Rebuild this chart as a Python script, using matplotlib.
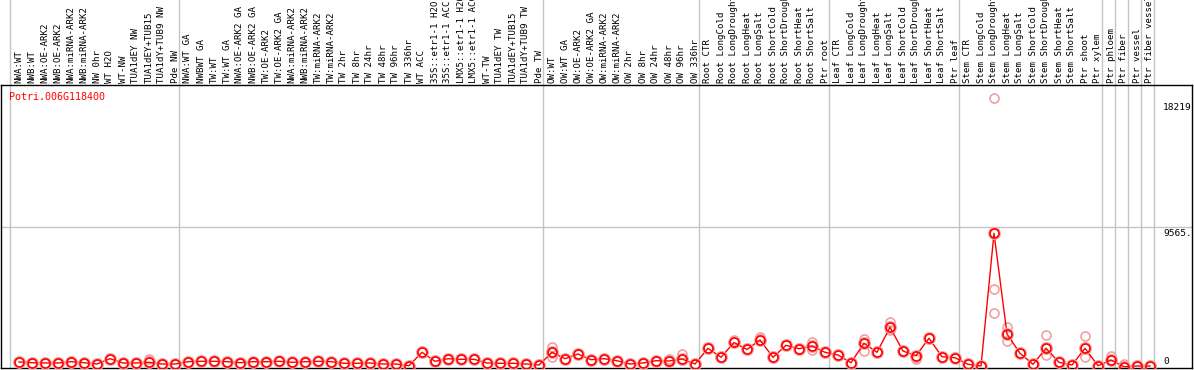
import matplotlib
matplotlib.use("Agg")
import matplotlib.pyplot as plt
import numpy as np

gene = "Potri.006G118400"

samples = [
    "NWA:WT", "NWB:WT", "NWA:OE-ARK2", "NWB:OE-ARK2", "NWA:miRNA-ARK2", "NWB:miRNA-ARK2",
    "NW 0hr", "WT H2O", "WT-NW", "TUA1dEY NW", "TUA1dEY+TUB15", "TUA1dY+TUB9 NW", "Pde NW",
    "NWA:WT GA", "NWBWT GA", "TW:WT", "TW:WT GA", "NWA:OE-ARK2 GA", "NWB:OE-ARK2 GA",
    "TW:OE-ARK2", "TW:OE-ARK2 GA", "NWA:miRNA-ARK2", "NWB:miRNA-ARK2", "TW:miRNA-ARK2",
    "TW:miRNA-ARK2", "TW 2hr", "TW 8hr", "TW 24hr", "TW 48hr", "TW 96hr", "TW 336hr",
    "WT ACC", "35S::etr1-1 H2O", "35S::etr1-1 ACC", "LMX5::etr1-1 H2O", "LMX5::etr1-1 ACC",
    "WT-TW", "TUA1dEY TW", "TUA1dEY+TUB15", "TUA1dY+TUB9 TW", "Pde TW",
    "OW:WT", "OW:WT GA", "OW:OE-ARK2", "OW:OE-ARK2 GA", "OW:miRNA-ARK2", "OW:miRNA-ARK2",
    "OW 2hr", "OW 8hr", "OW 24hr", "OW 48hr", "OW 96hr", "OW 336hr",
    "Root CTR", "Root LongCold", "Root LongDrought", "Root LongHeat", "Root LongSalt",
    "Root ShortCold", "Root ShortDrought", "Root ShortHeat", "Root ShortSalt", "Ptr root",
    "Leaf CTR", "Leaf LongCold", "Leaf LongDrought", "Leaf LongHeat", "Leaf LongSalt",
    "Leaf ShortCold", "Leaf ShortDrought", "Leaf ShortHeat", "Leaf ShortSalt", "Ptr leaf",
    "Stem CTR", "Stem LongCold", "Stem LongDrought", "Stem LongHeat", "Stem LongSalt",
    "Stem ShortCold", "Stem ShortDrought", "Stem ShortHeat", "Stem ShortSalt", "Ptr shoot",
    "Ptr xylem", "Ptr phloem", "Ptr fiber", "Ptr vessel", "Ptr fiber vessel",
]

# mean expression per sample
means = [
    406, 358, 338, 338, 426, 358, 270, 629, 338, 338, 385, 270, 270,
    426, 453, 453, 426, 358, 426, 426, 453, 385, 426, 453, 426, 318, 318, 338,
    270, 270, 155, 1061, 453, 629, 588, 588, 338, 318, 318, 270, 203,
    1061, 629, 946, 561, 629, 493, 270, 338, 493, 473, 608, 270,
    1332, 723, 1724, 1251, 1893, 723, 1535, 1305, 1487, 1061,
    879, 358, 1670, 1061, 2751, 1149, 831, 2008, 764, 696,
    250, 135, 9106, 2298, 994, 250, 1332, 385, 203, 1332, 155,
    541, 88, 135, 135,
]

# replicate values that stand apart from the mean (sample index -> values)
replicates = {
    10: [588],
    41: [1440, 723],
    51: [946],
    50: [608],
    55: [1893],
    57: [2116],
    61: [1778, 1217],
    65: [1940, 1170],
    67: [3130, 2569],
    69: [608],
    75: [18219, 5320, 3698],
    76: [2751, 1845],
    79: [2210, 879],
    82: [2143, 764],
    84: [811],
    85: [270],
}

group_starts = [0, 13, 41, 53, 63, 73, 84, 85, 86, 87, 88]
right_labels = ["18219", "9565.", "0"]
mid_value = 9565

W, H = 1194, 370
fig = plt.figure(figsize=(W / 100, H / 100), dpi=100)
ax = fig.add_axes([1 / W, (H - 368) / H, 1191 / W, 283 / H])
ax.set_xlim(-18 / 13, (1192 - 19) / 13)
ymax = 283 * 67.6
ax.set_ylim(0, ymax)

x = np.arange(len(samples))

# group separators (extend up through the label area)
for g in group_starts:
    ax.axvline(g - 9 / 13, ymin=0, ymax=368 / 283, color="#c4c4c4", lw=1.0,
               clip_on=False, zorder=1)
ax.axhline(mid_value, color="#c4c4c4", lw=1.0, zorder=1)

# replicates
rx, ry = [], []
for k, vals in replicates.items():
    for v in vals:
        rx.append(k)
        ry.append(v)
ax.plot(rx, ry, linestyle="none", marker="o", markersize=6.5, markerfacecolor="none",
        markeredgecolor="#f0a0a0", markeredgewidth=1.2, zorder=2)

# mean line + markers
ax.plot(x, means, color="#ff0000", lw=1.0, zorder=3)
ax.plot(x, means, linestyle="none", marker="o", markersize=7.5, markerfacecolor="none",
        markeredgecolor="#f4a0a0", markeredgewidth=1.8, zorder=3)
ax.plot(x, means, linestyle="none", marker="o", markersize=6.5, markerfacecolor="none",
        markeredgecolor="#ff0000", markeredgewidth=1.2, zorder=4)

ax.xaxis.tick_top()
ax.set_xticks(x)
ax.set_xticklabels(samples, rotation=90, fontsize=6.6, family="DejaVu Sans Mono")
ax.tick_params(axis="x", length=0, pad=1.5)
ax.set_yticks([])
for s in ax.spines.values():
    s.set_color("black")
    s.set_linewidth(1.0)

fig.text(9 / W, 1 - 97 / H, gene, color="#ff0000", fontsize=7.2,
         family="DejaVu Sans Mono", ha="left", va="center")
fig.text(1163 / W, 1 - 103 / H, right_labels[0], fontsize=6.8,
         family="DejaVu Sans Mono", ha="left", va="top")
fig.text(1163 / W, 1 - 229 / H, right_labels[1], fontsize=6.8,
         family="DejaVu Sans Mono", ha="left", va="top")
fig.text(1163 / W, 1 - 366 / H, right_labels[2], fontsize=6.8,
         family="DejaVu Sans Mono", ha="left", va="bottom")

fig.savefig("out.png", dpi=100)
